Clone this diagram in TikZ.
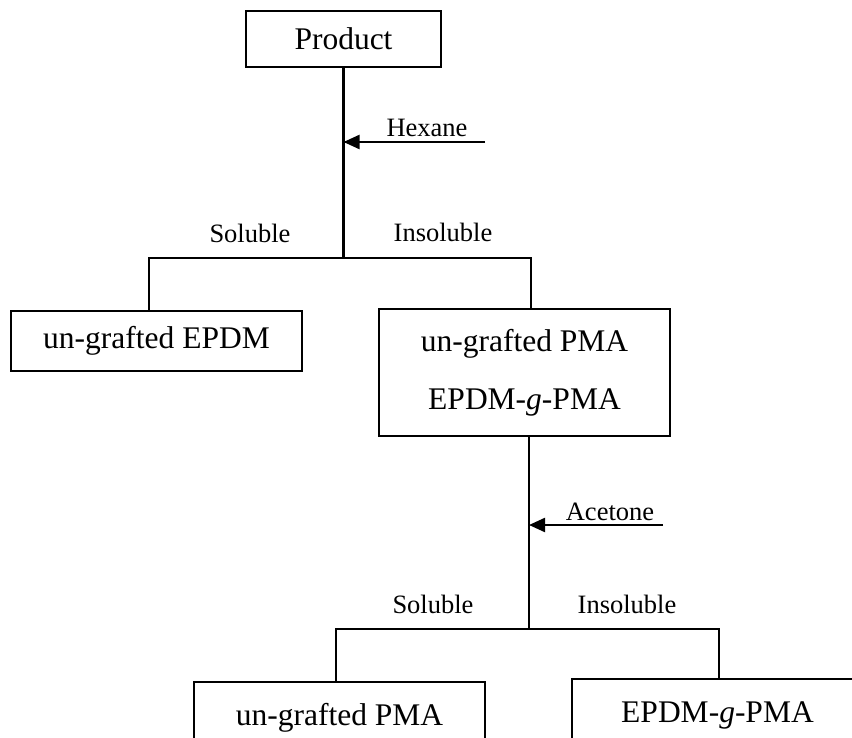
\documentclass[tikz,border=0pt]{standalone}
\usepackage{fontspec}
\setmainfont{Liberation Serif}
\usetikzlibrary{arrows.meta}
\begin{document}
\begin{tikzpicture}[x=1pt,y=-1pt,
    box/.style={draw, line width=1.2pt, inner sep=0pt, align=center,
        minimum width=291pt, font=\fontsize{31.5}{38}\selectfont},
    lbl/.style={inner sep=0pt, font=\fontsize{26.5}{32}\selectfont},
    link/.style={line width=2.2pt},
    feed/.style={line width=2.2pt, -{Triangle[length=16pt,width=14pt]}}]
    \clip (0,0) rectangle (852,738);
    % Draw boxes
    \node[box, minimum width=195pt, minimum height=56pt] (prod) at (343.5,39) {Product};
    \node[box, minimum height=60pt] (epdm) at (156.5,341) {un-grafted EPDM};
    \node[box, minimum height=127pt] (mix) at (524.5,372.5) {un-grafted PMA\\[20pt]EPDM-\textit{g}-PMA};
    \node[box, minimum height=72pt] (pma) at (339.5,718) {un-grafted PMA};
    \node[box, minimum height=72pt] (graft) at (717.5,715) {EPDM-\textit{g}-PMA};
    % Split points
    \coordinate (splitA) at (343.5,258);
    \coordinate (splitAl) at (149,258);
    \coordinate (splitAr) at (531,258);
    \coordinate (splitB) at (529,629);
    \coordinate (splitBl) at (336,629);
    \coordinate (splitBr) at (719,629);
    \coordinate (hexane) at (485,142);
    \coordinate (acetone) at (663,525);
    % First separation
    \draw[link] (prod.south) -- (splitA);
    \draw[link] (splitAl |- epdm.north) -- (splitAl) -- (splitAr) -- (splitAr |- mix.north);
    \draw[feed] (hexane) -- (hexane -| splitA);
    \node[lbl] (hexlbl) at (427,128) {Hexane};
    \node[lbl] (solA) at (250,233) {Soluble};
    \node[lbl] (insolA) at (443,232) {Insoluble};
    % Second separation
    \draw[link] (splitB |- mix.south) -- (splitB);
    \draw[link] (splitBl |- pma.north) -- (splitBl) -- (splitBr) -- (splitBr |- graft.north);
    \draw[feed] (acetone) -- (acetone -| splitB);
    \node[lbl] (acelbl) at (610,512) {Acetone};
    \node[lbl] (solB) at (433,604) {Soluble};
    \node[lbl] (insolB) at (627,604) {Insoluble};
\end{tikzpicture}
\end{document}
